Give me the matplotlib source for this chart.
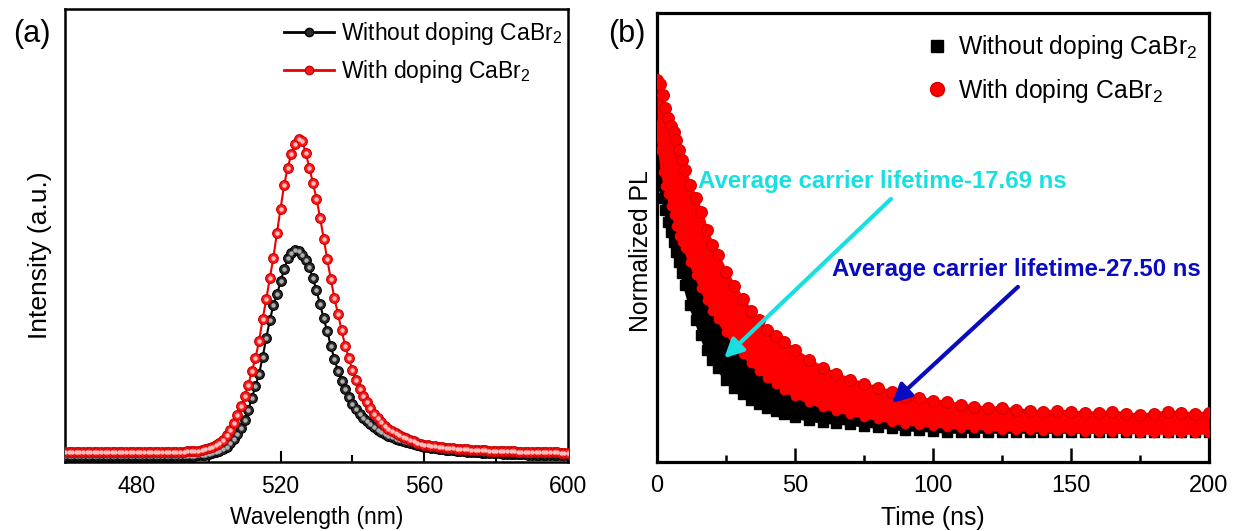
import numpy as np
import matplotlib
matplotlib.use("Agg")
import matplotlib.pyplot as plt
from matplotlib import font_manager as fm
from matplotlib.lines import Line2D

# ---------------- data: panel (a) steady-state PL (a.u.) ----------------
wavelength = np.arange(460, 601, 1)  # nm, 1 nm step

pl_without = [
    6, 6, 6, 6, 6, 6, 6, 6, 6, 6, 6, 6, 6, 6, 6, 6, 6, 6, 6, 6,
    6, 6, 6, 6, 6, 6, 6, 6, 6, 6, 6, 6, 6, 6, 6, 6,
    6, 7, 7, 7, 8,
    9, 10, 11, 13, 15, 19, 23, 28, 34, 42, 52, 64, 76, 88, 105, 124, 142, 157, 168, 181,
    193, 204, 210, 213, 212, 208, 202, 195, 184, 172, 158, 144, 131, 116, 103, 91, 81, 73, 65, 58,
    53, 48, 44, 41, 38, 35, 32, 30, 28, 26, 25, 23, 22, 21, 20, 19, 18, 17, 16, 15,
    15, 14, 14, 13, 13, 12, 12, 12, 11, 11, 11, 10, 10, 10, 10, 9, 9, 9, 9, 9,
    9, 8, 8, 8, 8, 8, 8, 8, 7, 7, 7, 7, 7, 7, 7, 7, 7, 7, 7, 7,
]

pl_with = [
    10, 10, 10, 10, 10, 10, 10, 10, 10, 10, 10, 10, 10, 10, 10, 10, 10, 10, 10, 10,
    10, 10, 10, 10, 10, 10,
    10, 10, 10, 10, 10, 10, 10, 10, 11, 11,
    11, 11, 12, 13, 14, 15, 17, 19,
    22, 27, 32, 39, 47, 56, 66, 77, 91, 104, 121, 143, 163, 184, 205, 230, 254, 278, 295, 309,
    319, 324, 322, 310, 295, 280, 264, 245, 224, 203, 183, 164, 148, 132, 116, 104, 92, 82, 73, 66,
    60, 54, 48, 44, 40, 36, 33, 31, 29, 27, 25, 24, 22, 21, 19, 18, 17,
    17, 16, 16, 15, 15, 14, 14, 14, 13, 13, 13, 13, 12, 12, 12, 12, 12, 11, 11, 11,
    11, 11, 11, 11, 11, 10, 10, 10, 10, 10, 10, 10, 10, 10, 10, 10, 10, 9, 9, 9,
]

# ---------------- data: panel (b) TRPL decay, upper/lower edges of the noisy bands (a.u.) ----------------
time_ns = [0, 1, 2, 3, 4, 5, 6, 7, 8, 9, 10,
           12, 14, 16, 18, 20, 22,
           25, 28, 31, 34, 37, 40, 43, 46,
           50, 55, 60, 65, 70, 75, 80, 85, 90, 95, 100, 105, 110, 115, 120, 125,
           130, 135, 140, 145, 150, 155, 160, 165, 170, 175, 180, 185, 190, 195, 200]

with_upper = [382, 378, 367, 354, 344, 336, 330, 322, 312, 302, 292,
              277, 264, 250, 232, 217, 207,
              190, 176, 163, 151, 142, 132, 126, 120,
              112, 102, 94, 88, 82, 78, 74, 70, 65, 64, 61, 60, 57, 55, 54, 54,
              52, 51, 50, 51, 50, 49, 49, 50, 48, 47, 48, 50, 49, 48, 49]
with_lower = [337, 312, 290, 276, 268, 256, 247, 236, 226, 220, 214,
              200, 187, 174, 162, 151, 143,
              130, 118, 108, 99, 91, 84, 78, 72,
              66, 60, 55, 51, 48, 45, 43, 40, 38, 37, 36, 35, 34, 34, 33, 32,
              32, 32, 31, 31, 31, 30, 30, 30, 30, 29, 29, 29, 29, 29, 29]
without_upper = [367, 352, 327, 312, 297, 284, 272, 262, 250, 240, 230,
                 212, 200, 186, 172, 160, 150,
                 137, 125, 114, 105, 97, 90, 84, 78,
                 72, 66, 62, 58, 55, 52, 50, 48, 46, 45, 44, 43, 42, 42, 41, 40,
                 40, 40, 39, 39, 39, 38, 38, 38, 38, 38, 38, 38, 38, 38, 38]
without_lower = [292, 277, 264, 252, 240, 230, 220, 210, 200, 189, 177,
                 157, 142, 127, 112, 102, 94,
                 82, 74, 68, 62, 58, 54, 51, 48,
                 45, 42, 40, 39, 38, 36, 35, 34, 32, 32, 31, 30, 30, 30, 30, 30,
                 30, 30, 30, 30, 30, 30, 30, 30, 30, 30, 30, 30, 30, 30, 30]

labels = ["Without doping CaBr$_\\mathregular{2}$", "With doping CaBr$_\\mathregular{2}$"]
annot_text = ["Average carrier lifetime-17.69 ns", "Average carrier lifetime-27.50 ns"]

# ---------------- fonts ----------------
names = {f.name for f in fm.fontManager.ttflist}
plt.rcParams["font.family"] = ["Liberation Sans", "DejaVu Sans"]
plt.rcParams["mathtext.fontset"] = "custom"
plt.rcParams["mathtext.rm"] = "Liberation Sans"
if "Liberation Sans Narrow" in names:
    NARROW = "Liberation Sans Narrow"
    nscale = 1.0
else:
    NARROW = "Liberation Sans"
    nscale = 0.85

fig = plt.figure(figsize=(12.38, 5.31), dpi=100)
ax1 = fig.add_axes([0.0525, 0.1299, 0.4063, 0.853])
ax2 = fig.add_axes([0.5307, 0.1299, 0.4459, 0.8456])

# ---------------- panel (a) ----------------
ax1.plot(wavelength, pl_without, "-", color="black", lw=1.5, marker="o", ms=7,
         mfc="#2a2a2a", mec="black", mew=0.8, zorder=3)
ax1.plot(wavelength, pl_without, ls="none", marker="o", ms=2.2, color="#b0b0b0", zorder=3.1)
ax1.plot(wavelength, pl_with, "-", color="#ee0000", lw=1.5, marker="o", ms=7,
         mfc="#ff1a1a", mec="#c40000", mew=0.8, zorder=4)
ax1.plot(wavelength, pl_with, ls="none", marker="o", ms=2.2, color="#ffc0c0", zorder=4.1)

ax1.set_xlim(460, 600)
ax1.set_ylim(0, 454)
ax1.set_xticks([480, 520, 560, 600])
ax1.set_xticks([500, 540, 580], minor=True)
ax1.set_yticks([])
ax1.tick_params(axis="x", which="major", direction="in", length=8, width=1.5,
                labelsize=16.5, pad=9)
ax1.tick_params(axis="x", which="minor", direction="in", length=5, width=1.5)
for s in ax1.spines.values():
    s.set_linewidth(1.8)
ax1.set_xlabel("Wavelength (nm)", fontsize=16.5, labelpad=6)
ax1.set_ylabel("Intensity (a.u.)", fontsize=19)
ax1.yaxis.set_label_coords(-0.026, 0.456)

h_a = [Line2D([], [], color="black", lw=2, marker="o", ms=6, mfc="#2a2a2a", mec="black"),
       Line2D([], [], color="#ee0000", lw=2, marker="o", ms=6, mfc="#ff1a1a", mec="#c40000")]
ax1.legend(h_a, labels, loc="upper left", bbox_to_anchor=(0.435, 0.975), frameon=False,
           fontsize=16.5, handlelength=2.2, handletextpad=0.3, labelspacing=0.45,
           borderaxespad=0, borderpad=0)

# ---------------- panel (b) ----------------
ax2.fill_between(time_ns, without_lower, without_upper, color="black", lw=0, zorder=2)
ax2.plot(time_ns, without_upper, color="black", lw=2.5, marker="s", ms=6, zorder=2)
ax2.plot(time_ns, without_lower, color="black", lw=2.5, marker="s", ms=6.5, zorder=2)
ax2.fill_between(time_ns, with_lower, with_upper, color="#ff0000", lw=0, zorder=3)
ax2.plot(time_ns, with_upper, color="#ff0000", lw=2.5, marker="o", ms=8.5,
         mec="#d80000", mew=0.8, zorder=3)
ax2.plot(time_ns, with_lower, color="#ff0000", lw=2.5, marker="o", ms=6.5,
         mec="#ff0000", mew=0.5, zorder=3)

ax2.set_xlim(0, 200)
ax2.set_ylim(0, 449)
ax2.set_xticks([0, 50, 100, 150, 200])
ax2.set_xticks([25, 75, 125, 175], minor=True)
ax2.set_yticks([])
ax2.tick_params(axis="x", which="major", direction="in", length=10, width=1.8,
                labelsize=20 * nscale, pad=9)
ax2.tick_params(axis="x", which="minor", direction="in", length=5, width=1.8)
for lab in ax2.get_xticklabels():
    lab.set_family(NARROW)
for s in ax2.spines.values():
    s.set_linewidth(2.3)
ax2.set_xlabel("Time (ns)", fontsize=21 * nscale, family=NARROW, labelpad=7)
ax2.set_ylabel("Normalized PL", fontsize=21 * nscale, family=NARROW)
ax2.yaxis.set_label_coords(-0.008, 0.47)

h_b = [Line2D([], [], ls="none", marker="s", ms=8, color="black"),
       Line2D([], [], ls="none", marker="o", ms=10, color="#ff0000", mec="#d00000")]
ax2.legend(h_b, labels, loc="upper left", bbox_to_anchor=(0.485, 0.955), frameon=False,
           prop={"family": NARROW, "size": 21 * nscale}, handlelength=1.0,
           handletextpad=0.35, labelspacing=0.62, borderaxespad=0, borderpad=0)

# annotations
ax2.annotate("", xy=(23.6, 102), xytext=(85.5, 265),
             arrowprops=dict(arrowstyle="-|>", color="#19e0e0", lw=3, mutation_scale=28),
             zorder=6)
ax2.text(14.9, 281, annot_text[0], color="#19e0e0", fontsize=17.3, fontweight="bold",
         va="center", ha="left", zorder=6)
ax2.annotate("", xy=(84.4, 57), xytext=(131.5, 177),
             arrowprops=dict(arrowstyle="-|>", color="#0a0ac0", lw=3, mutation_scale=28),
             zorder=6)
ax2.text(63.4, 193, annot_text[1], color="#0a0ac0", fontsize=17.3, fontweight="bold",
         va="center", ha="left", zorder=6)

fig.text(13 / 1238, 1 - 34 / 531, "(a)", fontsize=22, va="center", ha="left")
fig.text(608 / 1238, 1 - 34 / 531, "(b)", fontsize=22, va="center", ha="left")

fig.savefig("out.png", dpi=100)
